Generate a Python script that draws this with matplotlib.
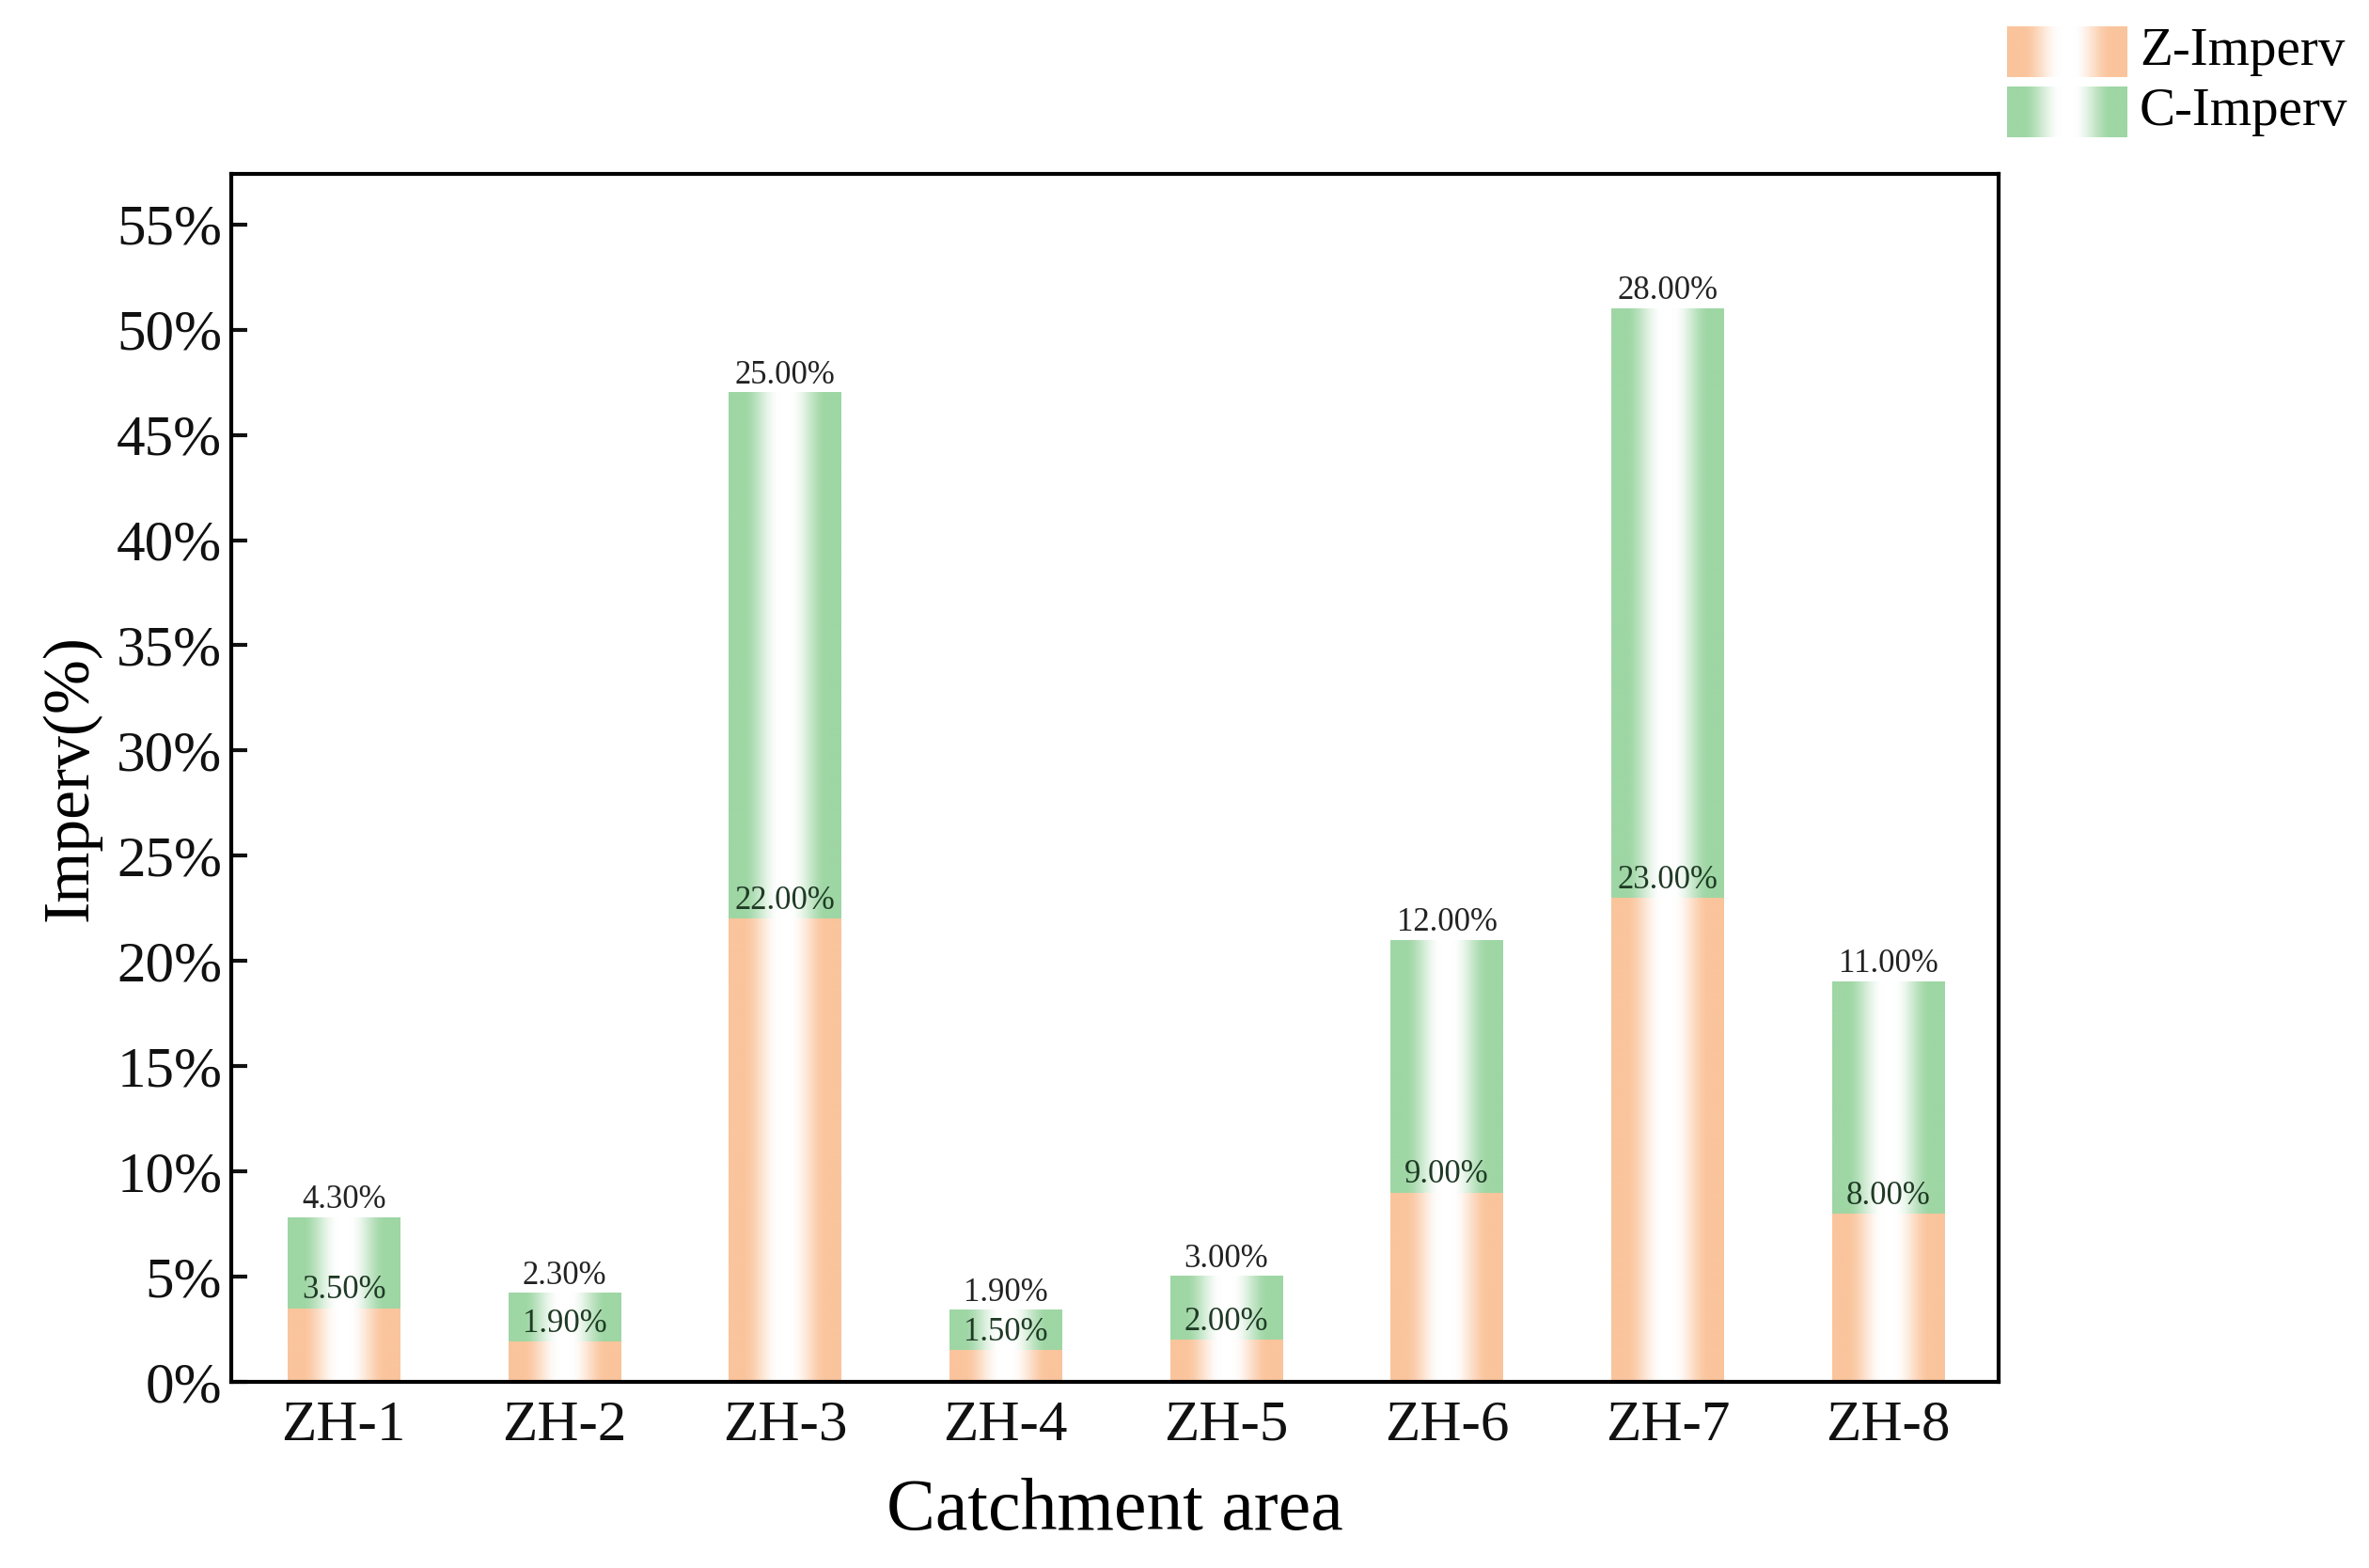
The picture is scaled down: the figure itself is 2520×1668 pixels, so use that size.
import matplotlib as mpl

mpl.use("Agg")

import matplotlib.pyplot as plt
import numpy as np
from matplotlib.ticker import FuncFormatter

mpl.rcParams.update(
    {
        "font.family": ["Liberation Serif", "DejaVu Serif"],
        "axes.linewidth": 1.5,
        "xtick.direction": "in",
        "ytick.direction": "in",
    }
)

# data
areas = ["ZH-1", "ZH-2", "ZH-3", "ZH-4", "ZH-5", "ZH-6", "ZH-7", "ZH-8"]
z_imperv = [3.5, 1.9, 22.0, 1.5, 2.0, 9.0, 23.0, 8.0]
c_imperv = [4.3, 2.3, 25.0, 1.9, 3.0, 12.0, 28.0, 11.0]
series_names = ["Z-Imperv", "C-Imperv"]

ORANGE = np.array([250, 196, 156]) / 255
GREEN = np.array([158, 214, 164]) / 255


def gradient(color, n=200):
    # colour at both edges, white in the middle
    x = np.linspace(0, 1, n)
    t = np.clip((np.abs(x - 0.5) * 2 - 0.1) / 0.65, 0, 1)
    w = t * t * (3 - 2 * t)
    img = (1 - w)[:, None] * np.ones(3) + w[:, None] * color
    return img[None, :, :]


def fill_bars(ax, bars, color):
    for b in bars:
        x0, y0 = b.get_x(), b.get_y()
        w, h = b.get_width(), b.get_height()
        ax.imshow(gradient(color), extent=(x0, x0 + w, y0, y0 + h),
                  aspect="auto", interpolation="bilinear", zorder=2)


fig = plt.figure(figsize=(12.6, 8.34), dpi=200)
ax = fig.add_axes([246 / 2520, 1 - 1470 / 1668, (2126 - 246) / 2520, (1470 - 185) / 1668])

x = np.arange(len(areas))
width = 0.51
b1 = ax.bar(x, z_imperv, width, color="none", zorder=1)
b2 = ax.bar(x, c_imperv, width, bottom=z_imperv, color="none", zorder=1)
fill_bars(ax, b1, ORANGE)
fill_bars(ax, b2, GREEN)

for xi, z, c in zip(x, z_imperv, c_imperv):
    ax.text(xi, z + 0.1, f"{z:.2f}%", ha="center", va="bottom", fontsize=12.5, color="#1f3a25", zorder=3)
    ax.text(xi, z + c + 0.1, f"{c:.2f}%", ha="center", va="bottom", fontsize=12.5, color="#222222", zorder=3)

ax.set_xlim(-0.51, 7.5)
ax.set_ylim(0, 57.4)
ax.set_yticks(np.arange(0, 56, 5))
ax.yaxis.set_major_formatter(FuncFormatter(lambda v, _: f"{v:.0f}%"))
ax.set_xticks(x)
ax.set_xticklabels(areas)
ax.tick_params(axis="both", labelsize=22, width=1.5, length=6, colors="#111111")
ax.tick_params(axis="x", pad=7)
ax.set_xlabel("Catchment area", fontsize=28, labelpad=10)
ax.set_ylabel("Imperv(%)", fontsize=25, labelpad=6)

# legend drawn by hand (gradient swatches)
for i, (name, col) in enumerate(zip(series_names, [ORANGE, GREEN])):
    top = 28 + i * 64
    sw = fig.add_axes([2135 / 2520, 1 - (top + 54) / 1668, 128 / 2520, 54 / 1668])
    sw.imshow(gradient(col), aspect="auto", interpolation="bilinear")
    sw.axis("off")
    fig.text(2276 / 2520, 1 - (top + 27) / 1668, name, fontsize=20.5, va="center", ha="left")

fig.savefig("out.png", dpi=200)
